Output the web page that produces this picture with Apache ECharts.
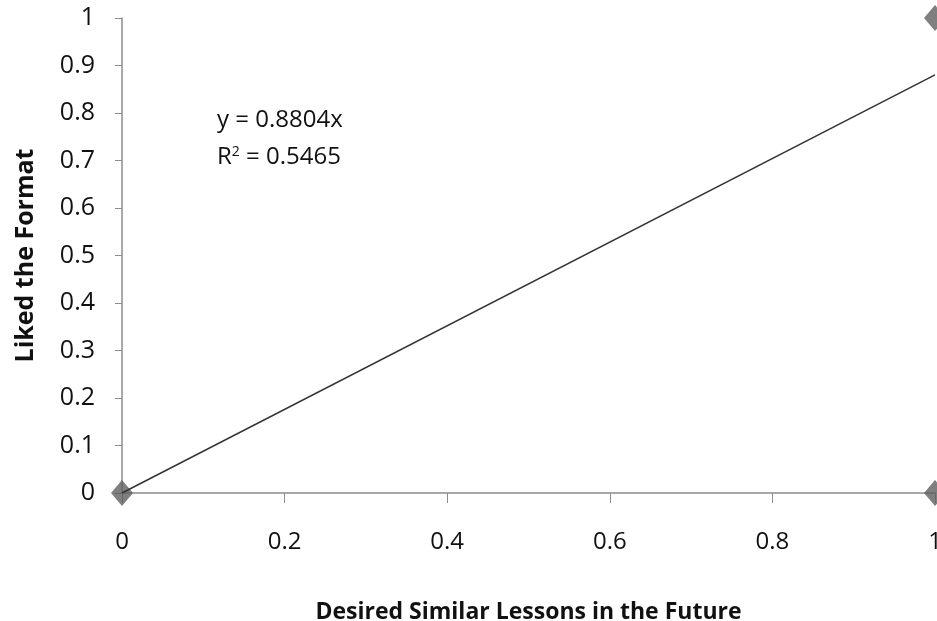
<!DOCTYPE html>
<html><head><meta charset="utf-8">
<script src="https://cdn.jsdelivr.net/npm/echarts@6/dist/echarts.min.js"></script>
<style>html,body{margin:0;padding:0;background:#fff;overflow:hidden}#c{width:937px;height:621px}</style>
</head><body><div id="c"></div>
<script>
const points = [[0,0],[1,1],[1,0]];
const slope = 0.8804;
const r2 = 0.5465;
const trendX = [0, 1];
const xTicks = [0, 0.2, 0.4, 0.6, 0.8, 1];
const yTicks = [0, 0.1, 0.2, 0.3, 0.4, 0.5, 0.6, 0.7, 0.8, 0.9, 1];
const xTitle = 'Desired Similar Lessons in the Future';
const yTitle = 'Liked the Format';

const font = 'Open Sans';
const chart = echarts.init(document.getElementById('c'));
chart.setOption({
  animation: false,
  grid: {left: 122, top: 18, right: 2, bottom: 128, containLabel: false, outerBoundsMode: 'none'},
  xAxis: {
    type: 'value', min: 0, max: 1, interval: 0.2,
    name: xTitle, nameLocation: 'middle', nameGap: 108,
    nameTextStyle: {fontFamily: font, fontWeight: 'bold', fontSize: 23, color: '#111'},
    axisLine: {show: true, lineStyle: {color: '#8c8c8c', width: 1.5}},
    axisTick: {show: true, length: 10, inside: false, lineStyle: {color: '#8c8c8c'}},
    axisLabel: {fontFamily: font, fontSize: 24, color: '#111', margin: 37, formatter: v => String(+v.toFixed(1)), hideOverlap: false},
    splitLine: {show: false}
  },
  yAxis: {
    type: 'value', min: 0, max: 1, interval: 0.1,
    name: yTitle, nameLocation: 'middle', nameGap: 84, nameRotate: 90,
    nameTextStyle: {fontFamily: font, fontWeight: 'bold', fontSize: 25, color: '#111'},
    axisLine: {show: true, lineStyle: {color: '#8c8c8c', width: 1.5}},
    axisTick: {show: true, length: 7, lineStyle: {color: '#8c8c8c'}},
    axisLabel: {fontFamily: font, fontSize: 25, color: '#111', margin: 27, formatter: v => String(+v.toFixed(1)), hideOverlap: false},
    splitLine: {show: false}
  },
  series: [
    {
      type: 'line', data: trendX.map(x => [x, slope * x]), symbol: 'none',
      lineStyle: {color: '#333', width: 1.5}, z: 3
    },
    {
      type: 'scatter', data: points, symbol: 'diamond', symbolSize: [22, 26],
      itemStyle: {color: '#5f5f5f'}, z: 2, clip: false
    }
  ],
  graphic: [
    {type: 'text', left: 217, top: 108, style: {text: 'y = ' + slope + 'x', fontFamily: font, fontSize: 24, fill: '#111'}},
    {type: 'text', left: 217, top: 145, style: {rich: {s: {fontSize: 14, verticalAlign: 'top', fontFamily: font, fill: '#111', padding: [0,0,10,0]}}, text: 'R{s|2} = ' + r2, fontFamily: font, fontSize: 24, fill: '#111'}}
  ]
});
</script></body></html>
